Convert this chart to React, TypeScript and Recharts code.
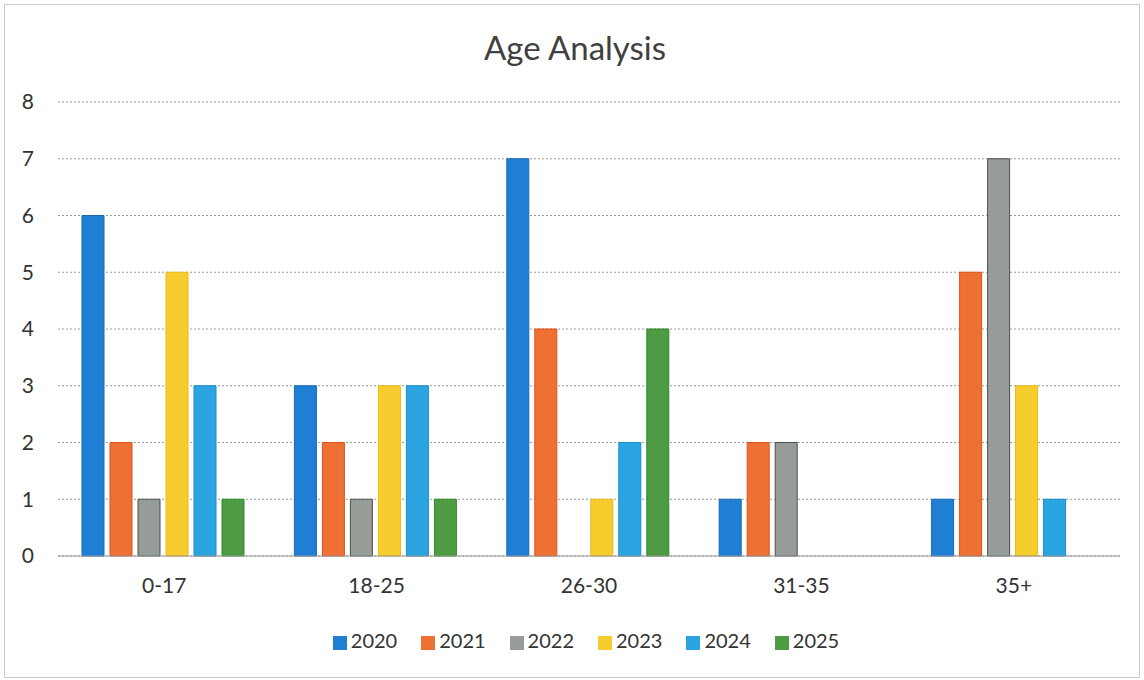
import { BarChart, Bar, XAxis, YAxis, CartesianGrid, Legend } from 'recharts'

const categories = ['0-17', '18-25', '26-30', '31-35', '35+']
const years = ['2020', '2021', '2022', '2023', '2024', '2025']
const v2020 = [6, 3, 7, 1, 1]
const v2021 = [2, 2, 4, 2, 5]
const v2022 = [1, 1, 0, 2, 7]
const v2023 = [5, 3, 1, 0, 3]
const v2024 = [3, 3, 2, 0, 1]
const v2025 = [1, 1, 4, 0, 0]
const yTicks = [0, 1, 2, 3, 4, 5, 6, 7, 8]

const fills = ['#1f7fd4', '#ee7033', '#969c98', '#f7cd2e', '#2ba4e2', '#4e9b43']
const strokes = ['#1869b3', '#e0501a', '#4a504c', '#e9b81c', '#1a8cc8', '#2f8a2a']

const series = [v2020, v2021, v2022, v2023, v2024, v2025]
const data = categories.map((c, i) => {
  const row: Record<string, string | number> = { age: c }
  years.forEach((y, k) => {
    row[y] = series[k][i]
  })
  return row
})

const font = 'Lato, "Open Sans", sans-serif'

export default function App() {
  return (
    <div
      style={{
        position: 'absolute',
        left: 0,
        top: 0,
        width: 1144,
        height: 680,
        background: '#fff',
        fontFamily: font,
      }}
    >
      <div
        style={{
          position: 'absolute',
          left: 4,
          top: 4,
          width: 1134,
          height: 672,
          border: '1px solid #c8ccc8',
        }}
      />
      <div
        style={{
          position: 'absolute',
          top: 27,
          left: 0,
          width: 1150,
          textAlign: 'center',
          fontSize: 33,
          color: '#404040',
        }}
      >
        Age Analysis
      </div>
      <BarChart
        width={1144}
        height={680}
        data={data}
        margin={{ top: 102, right: 24, left: 0, bottom: 60 }}
        barCategoryGap={24}
        barGap={6}
      >
        <CartesianGrid vertical={false} stroke="#9a9a9a" strokeDasharray="2 2" />
        <XAxis
          dataKey="age"
          height={40}
          tick={{ fontSize: 21, fill: '#333', fontFamily: font }}
          tickLine={false}
          axisLine={{ stroke: '#9a9a9a' }}
          tickMargin={16}
        />
        <YAxis
          width={58}
          domain={[0, 8]}
          ticks={yTicks}
          tick={{ fontSize: 21, fill: '#333', fontFamily: font }}
          tickLine={false}
          axisLine={false}
          tickMargin={18}
        />
        <Legend
          verticalAlign="bottom"
          iconType="square"
          iconSize={14}
          wrapperStyle={{ top: 628, left: 26, width: 1144, fontSize: 20, fontFamily: font, color: '#333' }}
          formatter={(value) => <span style={{ color: '#333', marginRight: 14 }}>{value}</span>}
        />
        {years.map((y, k) => (
          <Bar
            key={y}
            dataKey={y}
            fill={fills[k]}
            stroke={strokes[k]}
            strokeWidth={1}
            isAnimationActive={false}
          />
        ))}
      </BarChart>
    </div>
  )
}
